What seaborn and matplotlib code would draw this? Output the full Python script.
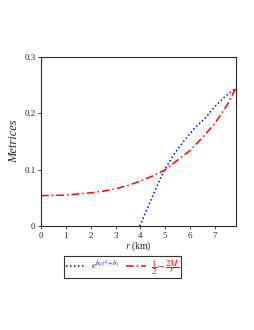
import matplotlib
matplotlib.use("Agg")
import pandas as pd
import seaborn as sns
import matplotlib.pyplot as plt

# values
blue_r = [3.97, 4.37, 4.78, 4.98, 5.38, 5.79, 6.19, 6.6, 7.0, 7.41, 7.85]
blue_m = [0.0, 0.040, 0.082, 0.1, 0.129, 0.153, 0.174, 0.191, 0.212, 0.230, 0.245]
red_r = [0, 0.5, 1, 1.5, 2, 2.5, 3, 3.5, 4, 4.5, 5, 5.5, 6, 6.5, 7, 7.5, 7.85]
red_m = [0.054, 0.0545, 0.055, 0.057, 0.059, 0.062, 0.066, 0.072, 0.080, 0.089, 0.100, 0.117, 0.134, 0.157, 0.182, 0.215, 0.245]
x_ticks = [0, 1, 2, 3, 4, 5, 6, 7]
y_ticks = [0, 0.1, 0.2, 0.3]
y_labels = ["0", "0.1", "0.2", "0.3"]

sns.set_style("ticks")
plt.rcParams['font.family'] = ['Liberation Serif', 'DejaVu Serif']
plt.rcParams['mathtext.fontset'] = 'stix'

fig = plt.figure(figsize=(2.55, 3.30), dpi=100)
ax = fig.add_axes([0.161, 0.315, 0.764, 0.512])

blue = pd.DataFrame({"r": blue_r, "m": blue_m})
red = pd.DataFrame({"r": red_r, "m": red_m})
sns.lineplot(data=blue, x="r", y="m", ax=ax, color="blue", lw=1.1,
             linestyle=(0, (1, 1.6)), sort=False, estimator=None,
             label=r"$e^{b_0 r^2+b_1}$")
sns.lineplot(data=red, x="r", y="m", ax=ax, color="red", lw=1.1,
             linestyle=(0, (5, 2, 1, 2)), sort=False, estimator=None,
             label=r"$\dfrac{1}{2}-\dfrac{2M}{r}$")

ax.set_xlim(0, 7.85)
ax.set_ylim(0, 0.3)
ax.set_xticks(x_ticks)
ax.set_yticks(y_ticks)
ax.set_yticklabels(y_labels)
ax.tick_params(labelsize=6.5, length=2, width=0.6, pad=2)
for s in ax.spines.values():
    s.set_linewidth(0.8)
ax.set_xlabel(r"$r$ (km)", fontsize=7, labelpad=0)
ax.set_ylabel("Metrices", fontsize=9, style="italic", labelpad=3)

leg = ax.legend(loc="upper center", bbox_to_anchor=(0.42, -0.15), ncol=2,
                fontsize=6.5, frameon=True, fancybox=False, edgecolor="black",
                handlelength=2.2, columnspacing=0.8, borderpad=0.2,
                handletextpad=0.5)
leg.get_frame().set_linewidth(0.8)
for t, c in zip(leg.get_texts(), ["blue", "red"]):
    t.set_color(c)

fig.savefig("out.png", dpi=100)
